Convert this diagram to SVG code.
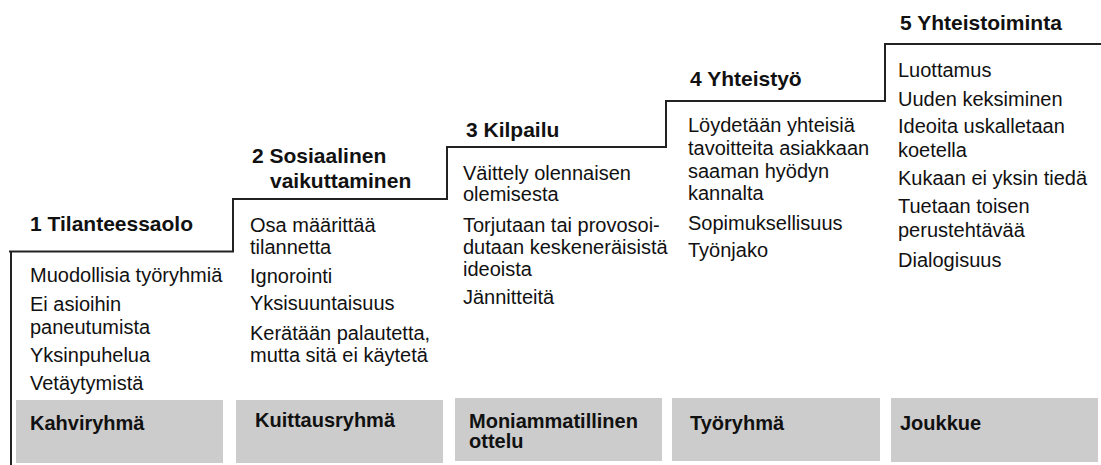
<svg xmlns="http://www.w3.org/2000/svg" width="1101" height="465" viewBox="0 0 1101 465">
<style>
text { font-family: "Liberation Sans", Arial, sans-serif; fill: #111; }
.t { font-size: 21px; font-weight: bold; }
.b { font-size: 20px; }
.l { font-size: 20px; font-weight: bold; }
.box { fill: #cccccc; }
.stair { fill: none; stroke: #222; stroke-width: 2; }
</style>
<rect width="1101" height="465" fill="#ffffff"/>
<g id="connectors">
  <path class="stair" d="M9,251.5 H233 V199 H447 V147 H666 V101 H885 V44 H1101"/>
  <path class="stair" d="M11,251.5 V465"/>
</g>
<g id="stage1">
  <text class="t" x="30" y="231">1 Tilanteessaolo</text>
  <text class="b" x="30" y="281.5">Muodollisia työryhmiä</text>
  <text class="b" x="30" y="310.5">Ei asioihin</text>
  <text class="b" x="30" y="333.5">paneutumista</text>
  <text class="b" x="30" y="362">Yksinpuhelua</text>
  <text class="b" x="30" y="390">Vetäytymistä</text>
  <rect class="box" x="16" y="400" width="207" height="63"/>
  <text class="l" x="30" y="430">Kahviryhmä</text>
</g>
<g id="stage2">
  <text class="t" x="252" y="163">2 Sosiaalinen</text>
  <text class="t" x="270" y="188">vaikuttaminen</text>
  <text class="b" x="250" y="231.5">Osa määrittää</text>
  <text class="b" x="250" y="253.5">tilannetta</text>
  <text class="b" x="250" y="283">Ignorointi</text>
  <text class="b" x="250" y="310">Yksisuuntaisuus</text>
  <text class="b" x="250" y="340">Kerätään palautetta,</text>
  <text class="b" x="250" y="362">mutta sitä ei käytetä</text>
  <rect class="box" x="236" y="400" width="207" height="63"/>
  <text class="l" x="255" y="427">Kuittausryhmä</text>
</g>
<g id="stage3">
  <text class="t" x="466" y="137">3 Kilpailu</text>
  <text class="b" x="463" y="180">Väittely olennaisen</text>
  <text class="b" x="463" y="201">olemisesta</text>
  <text class="b" x="463" y="231.5">Torjutaan tai provosoi-</text>
  <text class="b" x="463" y="254">dutaan keskeneräisistä</text>
  <text class="b" x="463" y="276">ideoista</text>
  <text class="b" x="463" y="304">Jännitteitä</text>
  <rect class="box" x="455" y="398" width="207" height="63"/>
  <text class="l" x="469" y="428">Moniammatillinen</text>
  <text class="l" x="469" y="448">ottelu</text>
</g>
<g id="stage4">
  <text class="t" x="690" y="86">4 Yhteistyö</text>
  <text class="b" x="688" y="131.5">Löydetään yhteisiä</text>
  <text class="b" x="688" y="155">tavoitteita asiakkaan</text>
  <text class="b" x="688" y="178">saaman hyödyn</text>
  <text class="b" x="688" y="200">kannalta</text>
  <text class="b" x="688" y="230">Sopimuksellisuus</text>
  <text class="b" x="688" y="256.5">Työnjako</text>
  <rect class="box" x="672" y="398" width="208" height="63"/>
  <text class="l" x="690" y="430">Työryhmä</text>
</g>
<g id="stage5">
  <text class="t" x="900" y="30">5 Yhteistoiminta</text>
  <text class="b" x="898" y="77">Luottamus</text>
  <text class="b" x="898" y="106">Uuden keksiminen</text>
  <text class="b" x="898" y="133">Ideoita uskalletaan</text>
  <text class="b" x="898" y="156.5">koetella</text>
  <text class="b" x="898" y="185">Kukaan ei yksin tiedä</text>
  <text class="b" x="898" y="213">Tuetaan toisen</text>
  <text class="b" x="898" y="236.5">perustehtävää</text>
  <text class="b" x="898" y="266.5">Dialogisuus</text>
  <rect class="box" x="891" y="398" width="207" height="64"/>
  <text class="l" x="900" y="430">Joukkue</text>
</g>
</svg>
